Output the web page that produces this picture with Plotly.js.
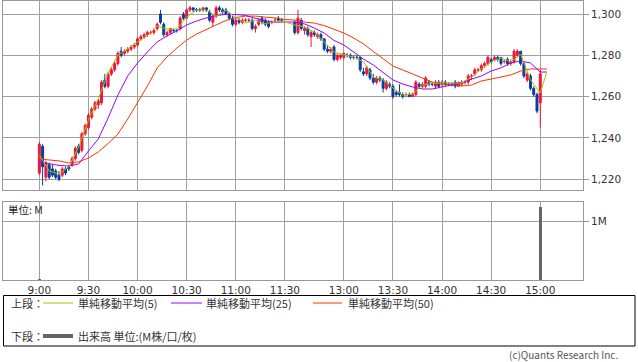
<!DOCTYPE html>
<html><head><meta charset="utf-8">
<script src="https://cdn.plot.ly/plotly-3.0.1.min.js"></script>
<style>html,body{margin:0;padding:0;background:#fff;}#chart{width:638px;height:362px;}</style>
</head><body><div id="chart"></div>
<script>
// ---- data (minute index from 9:00; lunch break collapsed) ----
const candleX = [0,2,4,6,8,10,12,14,16,18,20,22,24,26,28,30,32,34,36,38,40,42,44,46,48,50,52,54,56,58,60,62,64,66,68,70,72,74,76,78,80,82,84,86,88,90,92,94,96,98,100,102,104,106,108,110,112,114,116,118,120,122,124,126,128,130,132,134,136,138,140,142,144,146,148,
156,158,160,162,164,166,168,170,172,174,176,178,180,182,184,186,188,190,192,194,196,198,200,202,204,206,208,210,212,214,216,218,220,222,224,226,228,230,232,234,236,238,240,242,244,246,248,250,252,254,256,258,260,262,264,266,268,270,272,274,276,278,280,282,284,286,288,290,292,294,296,298,300,302,304,306];
const openP = [1223,1236,1221,1227,1225,1224,1222,1222,1225,1226,1227,1230,1236,1234,1242,1245,1250,1254,1256,1257,1268,1265,1271,1273,1276,1282,1281,1282,1283,1284,1285,1288,1289,1290,1291,1291,1293,1300,1295,1290,1291,1292,1292,1293,1300,1298,1302,1303,1302,1302,1302,1303,1301,1296,1299,1303,1302,1302,1300,1298,1295,1297,1296,1297,1297,1297,1293,1295,1298,1297,1296,1296,1297,1298,1297,
1296,1291,1297,1292,1293,1289,1291,1289,1290,1288,1283,1282,1284,1278,1279,1279,1280,1280,1279,1279,1279,1272,1271,1273,1269,1267,1269,1268,1264,1266,1265,1262,1262,1261,1261,1261,1260,1261,1266,1265,1265,1267,1266,1265,1267,1266,1267,1266,1266,1267,1265,1266,1267,1267,1270,1271,1273,1273,1275,1276,1278,1278,1279,1279,1277,1278,1276,1277,1280,1282,1276,1268,1270,1264,1261,1257];
const highP = [1238,1237,1229,1228,1227,1225,1224,1226,1226,1227,1231,1236,1237,1243,1247,1252,1255,1258,1259,1268,1271,1272,1274,1277,1282,1284,1283,1284,1285,1286,1289,1290,1291,1292,1292,1293,1296,1302,1296,1292,1293,1293,1293,1299,1301,1303,1304,1303,1303,1303,1303,1303,1302,1300,1304,1304,1303,1303,1301,1299,1298,1298,1298,1298,1298,1298,1295,1298,1299,1298,1297,1297,1298,1299,1298,
1297,1302,1298,1294,1294,1292,1292,1291,1291,1288,1285,1284,1285,1281,1281,1281,1281,1281,1280,1280,1279,1274,1275,1274,1271,1270,1270,1269,1268,1267,1266,1263,1266,1262,1262,1262,1262,1268,1267,1267,1270,1268,1267,1268,1268,1268,1268,1267,1267,1268,1267,1268,1268,1271,1271,1274,1274,1276,1277,1280,1279,1280,1280,1279,1278,1279,1278,1283,1283,1282,1277,1272,1271,1265,1262,1273];
const lowP = [1222,1217,1219,1220,1221,1220,1219,1221,1222,1224,1226,1229,1232,1233,1241,1244,1249,1253,1254,1256,1264,1264,1270,1272,1275,1279,1280,1281,1282,1283,1284,1287,1288,1289,1290,1290,1292,1295,1289,1289,1290,1291,1291,1292,1297,1298,1301,1301,1301,1301,1301,1301,1296,1294,1298,1301,1300,1300,1297,1294,1294,1295,1295,1296,1296,1292,1291,1294,1295,1294,1293,1295,1296,1296,1296,
1290,1290,1292,1290,1289,1284,1289,1288,1287,1282,1281,1281,1277,1277,1278,1278,1279,1278,1278,1278,1272,1270,1270,1268,1266,1266,1267,1262,1263,1264,1259,1260,1260,1259,1260,1260,1260,1260,1264,1264,1264,1265,1265,1264,1264,1265,1265,1265,1265,1264,1265,1265,1266,1266,1268,1270,1272,1272,1274,1275,1276,1277,1277,1275,1276,1275,1275,1276,1279,1275,1269,1267,1263,1260,1252,1245];
const closeP = [1237,1226,1228,1221,1222,1221,1220,1225,1223,1225,1230,1235,1233,1242,1246,1251,1254,1257,1258,1267,1265,1271,1273,1276,1281,1280,1282,1283,1284,1285,1288,1289,1290,1291,1291,1292,1295,1296,1290,1291,1293,1292,1292,1298,1298,1302,1303,1302,1302,1302,1303,1302,1297,1299,1303,1302,1301,1300,1298,1295,1297,1296,1297,1297,1297,1293,1294,1297,1296,1295,1294,1296,1297,1297,1297,
1291,1298,1293,1293,1290,1291,1290,1290,1288,1283,1282,1283,1278,1280,1280,1281,1280,1279,1279,1279,1273,1271,1274,1269,1267,1269,1268,1264,1267,1265,1260,1261,1261,1260,1261,1260,1261,1267,1265,1266,1269,1266,1266,1267,1265,1267,1266,1266,1266,1265,1267,1267,1267,1270,1270,1273,1273,1275,1276,1279,1277,1279,1278,1276,1277,1276,1277,1282,1282,1276,1270,1271,1264,1261,1253,1271];

const maX = [0,6,12,18,24,30,36,42,48,54,60,66,72,78,84,90,96,102,108,114,120,126,132,138,144,150,156,162,168,174,180,186,192,198,204,210,216,222,228,234,240,246,252,258,264,270,276,282,288,294,300,306,310];
const ma5 = [1231.8,1224.0,1222.6,1226.0,1235.6,1248.7,1258.9,1271.4,1280.2,1283.1,1286.5,1289.4,1294.2,1292.7,1292.7,1298.5,1301.9,1301.9,1299.0,1301.9,1298.1,1295.6,1297.1,1295.2,1296.6,1296.1,1294.7,1293.7,1291.3,1286.4,1281.6,1280.2,1279.2,1276.8,1269.5,1268.1,1264.2,1260.8,1261.3,1265.6,1266.6,1266.6,1266.6,1266.6,1269.5,1273.4,1276.8,1278.7,1276.8,1280.6,1268.1,1261.8,1271.9];
const ma25 = [1228.4,1227.4,1226.7,1226.4,1227.4,1233.7,1239.5,1249.7,1260.8,1270.0,1276.3,1281.6,1286.5,1289.4,1291.8,1294.7,1296.6,1298.1,1299.3,1299.8,1299.8,1299.3,1298.1,1296.6,1296.1,1296.1,1296.1,1295.2,1293.2,1290.8,1287.2,1285.0,1281.6,1278.2,1275.3,1271.9,1268.1,1266.1,1264.7,1263.7,1263.7,1264.7,1265.6,1266.6,1268.5,1270.0,1272.4,1273.9,1276.3,1277.3,1276.3,1271.9,1271.9];
const ma50 = [1229.8,1229.3,1228.9,1227.9,1228.4,1230.3,1233.2,1237.3,1241.9,1249.2,1256.9,1265.1,1273.9,1279.2,1283.5,1287.4,1290.3,1292.7,1294.7,1296.9,1298.3,1299.0,1299.0,1298.5,1298.1,1297.3,1297.1,1296.1,1295.6,1294.4,1292.7,1290.8,1288.4,1285.5,1281.9,1278.2,1274.8,1272.9,1271.0,1269.0,1267.1,1266.1,1265.6,1265.2,1265.6,1267.6,1268.5,1269.5,1270.5,1272.4,1273.4,1273.4,1273.4];

const volX = [0, 306];
const volume = [0.02, 1.24];   // M

const tickIdx = [0,30,60,90,120,150,186,216,246,276,306];
const tickLabels = ["9:00","9:30","10:00","10:30","11:00","11:30","13:00","13:30","14:00","14:30","15:00"];
const priceTicks = [1220,1240,1260,1280,1300];
const volTicks = [1];
const volTickLabels = ["1M"];
const legendLabels = ["単純移動平均(5)","単純移動平均(25)","単純移動平均(50)","出来高 単位:(M株/口/枚)"];
const rowLabels = ["上段：","下段："];

// ---- layout helpers ----
const W = 638, H = 362;
const PX = p => p / W, PY = p => 1 - p / H;
const GRID = '#a0a0a0', FRAME = '#999999';
const tickFont = {family: 'DejaVu Sans, Verdana, sans-serif', size: 10.5, color: '#333'};
const jpFont = {family: 'Noto Sans CJK JP, sans-serif', size: 11, color: '#333'};
const C_UP = '#f0143c', C_DN = '#0c3c9c';
const C5 = '#99cc00', C25 = '#9900ff', C50 = '#ff3300';
const xRange = [-22.2, 332.1];

const traces = [
  {type: 'candlestick', x: candleX, open: openP, high: highP, low: lowP, close: closeP,
   xaxis: 'x', yaxis: 'y', whiskerwidth: 0, hoverinfo: 'skip', showlegend: false,
   increasing: {line: {color: C_UP, width: 1}, fillcolor: C_UP},
   decreasing: {line: {color: C_DN, width: 1}, fillcolor: C_DN}},
  {type: 'scatter', mode: 'lines', x: maX, y: ma50, xaxis: 'x', yaxis: 'y', line: {color: C50, width: 1}, showlegend: false, hoverinfo: 'skip'},
  {type: 'scatter', mode: 'lines', x: maX, y: ma25, xaxis: 'x', yaxis: 'y', line: {color: C25, width: 1}, showlegend: false, hoverinfo: 'skip'},
  {type: 'scatter', mode: 'lines', x: maX, y: ma5, xaxis: 'x', yaxis: 'y', line: {color: C5, width: 1}, showlegend: false, hoverinfo: 'skip'},
  {type: 'bar', x: volX, y: volume, xaxis: 'x2', yaxis: 'y2', width: 1.8, marker: {color: '#666666', line: {width: 0}}, showlegend: false, hoverinfo: 'skip'}
];

const axCommon = {showgrid: true, gridcolor: GRID, gridwidth: 1, zeroline: false,
  showline: true, mirror: true, linecolor: FRAME, linewidth: 1, fixedrange: true};

const layout = {
  width: W, height: H, margin: {l: 0, r: 0, t: 0, b: 0},
  paper_bgcolor: '#fff', plot_bgcolor: '#fff', showlegend: false,
  boxgap: 0.25, boxgroupgap: 0.2,
  xaxis: Object.assign({}, axCommon, {domain: [PX(3), PX(583)], range: xRange, anchor: 'y',
    tickmode: 'array', tickvals: tickIdx, showticklabels: false, ticks: '', rangeslider: {visible: false}}),
  yaxis: Object.assign({}, axCommon, {domain: [PY(190), PY(1)], range: [1214.8, 1306.3], anchor: 'x', side: 'right',
    tickmode: 'array', tickvals: priceTicks, tickformat: ',d', ticks: 'outside', ticklen: 5, tickcolor: FRAME, tickfont: tickFont}),
  xaxis2: Object.assign({}, axCommon, {domain: [PX(3), PX(583)], range: xRange, anchor: 'y2',
    tickmode: 'array', tickvals: tickIdx, ticktext: tickLabels, ticks: '', tickfont: tickFont}),
  yaxis2: Object.assign({}, axCommon, {domain: [PY(280), PY(202)], range: [0, 1.322], anchor: 'x2', side: 'right',
    tickmode: 'array', tickvals: volTicks, ticktext: volTickLabels, ticks: 'outside', ticklen: 5, tickcolor: FRAME, tickfont: tickFont}),
  bargap: 0,
  shapes: [
    {type: 'rect', xref: 'paper', yref: 'paper', x0: PX(3.5), x1: PX(635), y0: PY(346), y1: PY(295.5), line: {color: '#000', width: 1}},
    {type: 'line', xref: 'paper', yref: 'paper', x0: PX(43), x1: PX(73), y0: PY(303), y1: PY(303), line: {color: C5, width: 1}},
    {type: 'line', xref: 'paper', yref: 'paper', x0: PX(171), x1: PX(202), y0: PY(303), y1: PY(303), line: {color: C25, width: 1}},
    {type: 'line', xref: 'paper', yref: 'paper', x0: PX(313), x1: PX(342), y0: PY(303), y1: PY(303), line: {color: C50, width: 1}},
    {type: 'line', xref: 'paper', yref: 'paper', x0: PX(43), x1: PX(73), y0: PY(336), y1: PY(336), line: {color: '#666666', width: 4}}
  ],
  annotations: [
    {text: rowLabels[0], x: PX(9), y: PY(303), xref: 'paper', yref: 'paper', xanchor: 'left', yanchor: 'middle', showarrow: false, font: jpFont},
    {text: legendLabels[0], x: PX(76), y: PY(303), xref: 'paper', yref: 'paper', xanchor: 'left', yanchor: 'middle', showarrow: false, font: jpFont},
    {text: legendLabels[1], x: PX(204), y: PY(303), xref: 'paper', yref: 'paper', xanchor: 'left', yanchor: 'middle', showarrow: false, font: jpFont},
    {text: legendLabels[2], x: PX(346), y: PY(303), xref: 'paper', yref: 'paper', xanchor: 'left', yanchor: 'middle', showarrow: false, font: jpFont},
    {text: rowLabels[1], x: PX(9), y: PY(336), xref: 'paper', yref: 'paper', xanchor: 'left', yanchor: 'middle', showarrow: false, font: jpFont},
    {text: legendLabels[3], x: PX(76), y: PY(336), xref: 'paper', yref: 'paper', xanchor: 'left', yanchor: 'middle', showarrow: false, font: jpFont},
    {text: '単位: M', x: PX(6), y: PY(209), xref: 'paper', yref: 'paper', xanchor: 'left', yanchor: 'middle', showarrow: false, font: {family: 'Noto Sans CJK JP, sans-serif', size: 10.5, color: '#222'}},
    {text: '(c)Quants Research Inc.', x: PX(620), y: PY(354.5), xref: 'paper', yref: 'paper', xanchor: 'right', yanchor: 'middle', showarrow: false, font: {family: 'Noto Sans CJK JP, sans-serif', size: 10, color: '#555'}}
  ]
};

Plotly.newPlot('chart', traces, layout, {staticPlot: true, displayModeBar: false});
</script>
</body></html>
